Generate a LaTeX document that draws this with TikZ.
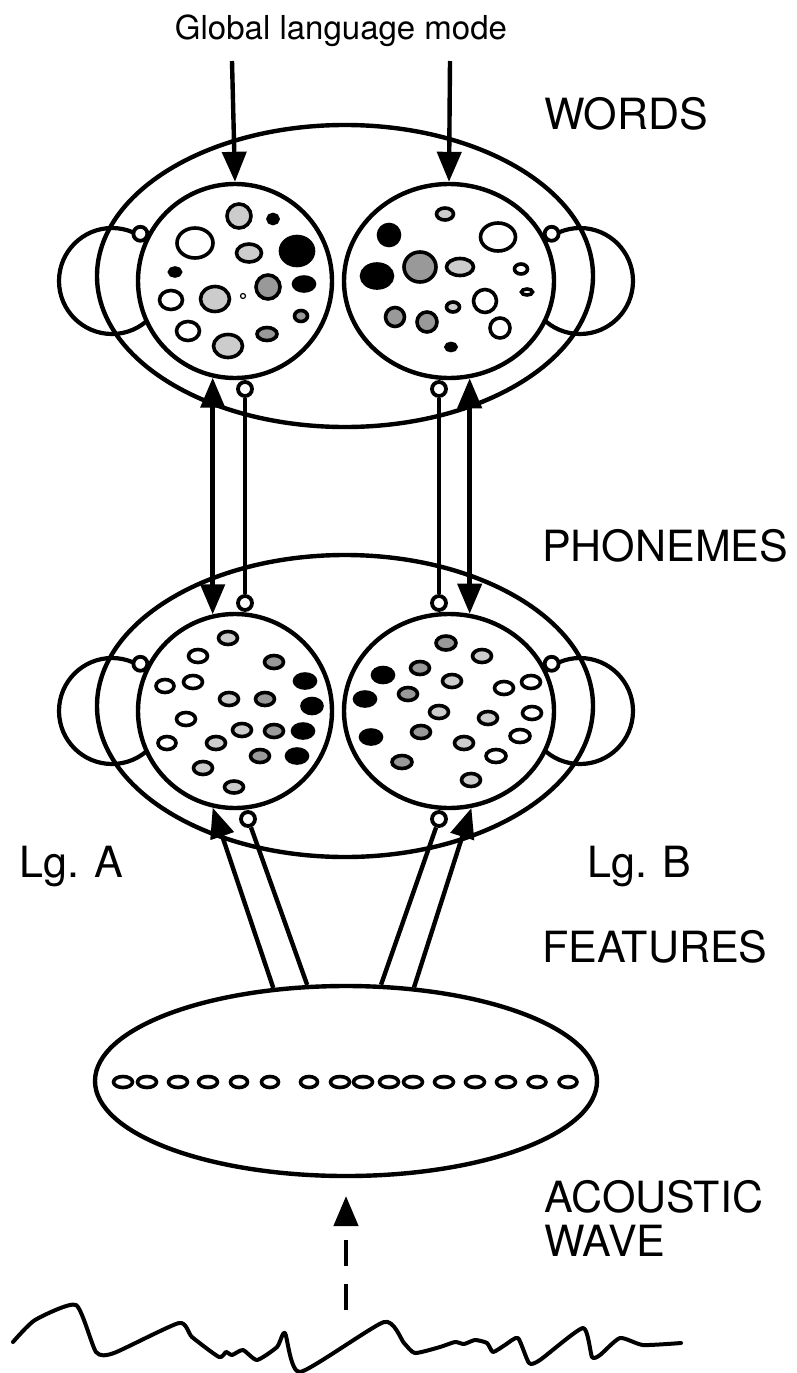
\documentclass[tikz,border=0pt]{standalone}
\usepackage{fontspec}
\setmainfont{TeX Gyre Heros}
\usetikzlibrary{arrows.meta,shapes.geometric}
\definecolor{lightblob}{gray}{0.8}
\definecolor{midblob}{gray}{0.6}
\begin{document}
\begin{tikzpicture}[x=1pt,y=1pt,yscale=-1,xscale=1,
		line/.style={line width=4.4pt},
		field/.style={draw, ellipse, line width=4.4pt, inner sep=0pt},
		cell/.style={draw, ellipse, line width=4.4pt, fill=white, inner sep=0pt},
		loopc/.style={draw, circle, line width=4.2pt, inner sep=0pt, minimum size=106pt},
		inhib/.style={draw, circle, fill=white, line width=3.8pt, inner sep=0pt, minimum size=14pt},
		ph/.style={draw, line width=3.6pt, fill=#1},
		arr/.style={line width=4.4pt, -{Triangle[length=30pt,width=24pt]}},
		biarr/.style={line width=4.4pt, {Triangle[length=30pt,width=24pt]}-{Triangle[length=30pt,width=24pt]}},
		lbl/.style={font=\fontsize{43}{44}\selectfont, anchor=base west, inner sep=0pt, align=left}]
		\useasboundingbox (0,0) rectangle (796,1373);

		% The three big fields
		\node[field, minimum width=496pt, minimum height=302pt] (words) at (345,276) {};
		\node[field, minimum width=496pt, minimum height=302pt] (phon) at (345,706) {};
		\node[field, minimum width=502pt, minimum height=190pt] (feat) at (346,1081) {};

		% Self loops of the four language circles
		\node[loopc] (lwA) at (112,281) {};
		\node[loopc] (lwB) at (580,281) {};
		\node[loopc] (lpA) at (112,711) {};
		\node[loopc] (lpB) at (580,711) {};

		% The language circles (Lg. A left, Lg. B right)
		\node[cell, minimum width=194pt, minimum height=194pt] (wA) at (235,281) {};
		\node[cell, minimum width=210pt, minimum height=194pt] (wB) at (449,281) {};
		\node[cell, minimum width=194pt, minimum height=194pt] (pA) at (235,711) {};
		\node[cell, minimum width=210pt, minimum height=194pt] (pB) at (449,711) {};

		% Word units, Lg. A
		\draw[ph=lightblob] (239,216) circle[radius=12];
		\draw[ph=black] (273,219) ellipse[x radius=5, y radius=4.5];
		\draw[ph=white] (195,243) ellipse[x radius=18, y radius=15];
		\draw[ph=lightblob] (249,253) ellipse[x radius=12.5, y radius=9];
		\draw[ph=black] (297,251) ellipse[x radius=16.5, y radius=14.5];
		\draw[ph=black] (175,272) ellipse[x radius=5.5, y radius=4];
		\draw[ph=midblob] (268,287) circle[radius=12];
		\draw[ph=black] (304,284) ellipse[x radius=10.5, y radius=7];
		\draw[ph=white] (171,300) ellipse[x radius=11.5, y radius=9.5];
		\draw[ph=lightblob] (215,299) ellipse[x radius=14.5, y radius=12.5];
		\draw[line width=1.2pt, fill=white] (243,296) circle[radius=2.5];
		\draw[ph=midblob] (301,316) ellipse[x radius=6.5, y radius=5.5];
		\draw[ph=white] (188,331) ellipse[x radius=11.5, y radius=9.5];
		\draw[ph=midblob] (267,334) ellipse[x radius=10, y radius=6.5];
		\draw[ph=lightblob] (228,346) ellipse[x radius=14.5, y radius=11.5];

		% Word units, Lg. B
		\draw[ph=lightblob] (445,214) ellipse[x radius=8.5, y radius=6];
		\draw[ph=black] (389,235) circle[radius=10.5];
		\draw[ph=white] (498,237) ellipse[x radius=17.5, y radius=14];
		\draw[ph=black] (377,276) ellipse[x radius=15.5, y radius=12];
		\draw[ph=midblob] (420,267) ellipse[x radius=16, y radius=15];
		\draw[ph=lightblob] (460,267) ellipse[x radius=13.5, y radius=8.5];
		\draw[ph=white] (521,269) ellipse[x radius=6.5, y radius=5];
		\draw[ph=white] (527,292) ellipse[x radius=5.5, y radius=3];
		\draw[ph=white] (485,301) circle[radius=11.5];
		\draw[ph=lightblob] (453,307) ellipse[x radius=6.5, y radius=5];
		\draw[ph=midblob] (395,317) circle[radius=9.5];
		\draw[ph=midblob] (427,322) circle[radius=10];
		\draw[ph=white] (500,328) circle[radius=10];
		\draw[ph=black] (451,347) ellipse[x radius=5, y radius=3.5];

		% Phoneme units, Lg. A
		\draw[ph=lightblob] (228,638) ellipse[x radius=9.5, y radius=6.5];
		\draw[ph=white] (198,656) ellipse[x radius=9.5, y radius=6.5];
		\draw[ph=midblob] (274,662) ellipse[x radius=9.5, y radius=6.5];
		\draw[ph=white] (165,686) ellipse[x radius=9, y radius=6.5];
		\draw[ph=white] (193,682) ellipse[x radius=9.5, y radius=6.5];
		\draw[ph=black] (305,681) ellipse[x radius=10.5, y radius=7];
		\draw[ph=lightblob] (229,699) ellipse[x radius=9.5, y radius=6.5];
		\draw[ph=midblob] (265,699) ellipse[x radius=9.5, y radius=6.5];
		\draw[ph=black] (312,706) ellipse[x radius=10, y radius=7.5];
		\draw[ph=white] (186,719) ellipse[x radius=9.5, y radius=6.5];
		\draw[ph=lightblob] (242,730) ellipse[x radius=9.5, y radius=6.5];
		\draw[ph=midblob] (274,731) ellipse[x radius=9.5, y radius=6.5];
		\draw[ph=black] (303,731) ellipse[x radius=10.5, y radius=7];
		\draw[ph=white] (167,743) ellipse[x radius=9, y radius=6.5];
		\draw[ph=lightblob] (216,743) ellipse[x radius=9.5, y radius=6.5];
		\draw[ph=midblob] (260,756) ellipse[x radius=9.5, y radius=6.5];
		\draw[ph=black] (297,756) ellipse[x radius=10.5, y radius=7];
		\draw[ph=lightblob] (203,768) ellipse[x radius=9.5, y radius=6.5];
		\draw[ph=lightblob] (234,787) ellipse[x radius=9.5, y radius=6];

		% Phoneme units, Lg. B
		\draw[ph=midblob] (446,643) ellipse[x radius=10, y radius=7];
		\draw[ph=lightblob] (482,656) ellipse[x radius=9.5, y radius=6.5];
		\draw[ph=black] (383,675) ellipse[x radius=10.5, y radius=7.5];
		\draw[ph=midblob] (420,668) ellipse[x radius=9.5, y radius=6.5];
		\draw[ph=lightblob] (452,681) ellipse[x radius=9.5, y radius=6.5];
		\draw[ph=white] (504,688) ellipse[x radius=9.5, y radius=6.5];
		\draw[ph=white] (531,682) ellipse[x radius=9.5, y radius=6.5];
		\draw[ph=black] (365,699) ellipse[x radius=10.5, y radius=7];
		\draw[ph=midblob] (408,694) ellipse[x radius=9.5, y radius=6.5];
		\draw[ph=lightblob] (439,712) ellipse[x radius=9.5, y radius=6.5];
		\draw[ph=lightblob] (488,718) ellipse[x radius=9.5, y radius=6.5];
		\draw[ph=white] (532,713) ellipse[x radius=9.5, y radius=6.5];
		\draw[ph=midblob] (421,732) ellipse[x radius=9.5, y radius=6.5];
		\draw[ph=black] (371,737) ellipse[x radius=10.5, y radius=7];
		\draw[ph=lightblob] (464,743) ellipse[x radius=9.5, y radius=6.5];
		\draw[ph=white] (520,736) ellipse[x radius=10, y radius=6.5];
		\draw[ph=white] (496,756) ellipse[x radius=10, y radius=6.5];
		\draw[ph=midblob] (402,762) ellipse[x radius=10, y radius=6.5];
		\draw[ph=lightblob] (471,780) ellipse[x radius=9.5, y radius=6.5];

		% Feature units
		\draw[ph=white] (123,1082) ellipse[x radius=9.5, y radius=5.5];
		\draw[ph=white] (147,1082) ellipse[x radius=9.5, y radius=5.5];
		\draw[ph=white] (178,1082) ellipse[x radius=9.5, y radius=5.5];
		\draw[ph=white] (208,1082) ellipse[x radius=9.5, y radius=5.5];
		\draw[ph=white] (239,1082) ellipse[x radius=8.5, y radius=5.5];
		\draw[ph=white] (270,1082) ellipse[x radius=8.5, y radius=5.5];
		\draw[ph=white] (309,1082) ellipse[x radius=8.5, y radius=5.5];
		\draw[ph=white] (340,1082) ellipse[x radius=9.5, y radius=5.5];
		\draw[ph=white] (363,1082) ellipse[x radius=9.5, y radius=5.5];
		\draw[ph=white] (389,1082) ellipse[x radius=9.5, y radius=5.5];
		\draw[ph=white] (413,1082) ellipse[x radius=9.5, y radius=5.5];
		\draw[ph=white] (444,1082) ellipse[x radius=9.5, y radius=5.5];
		\draw[ph=white] (475,1082) ellipse[x radius=9.5, y radius=5.5];
		\draw[ph=white] (506,1082) ellipse[x radius=9.5, y radius=5.5];
		\draw[ph=white] (537,1082) ellipse[x radius=9, y radius=5.5];
		\draw[ph=white] (568,1082) ellipse[x radius=9, y radius=5.5];

		% Inhibitory ends of the self loops
		\node[inhib] (iwA) at (lwA.59) {};
		\node[inhib] (iwB) at (lwB.121) {};
		\node[inhib] (ipA) at (lpA.59) {};
		\node[inhib] (ipB) at (lpB.121) {};

		% Global language mode input
		\node[font=\fontsize{33}{36}\selectfont, anchor=base, inner sep=0pt] (glm) at (341,39) {Global language mode};
		\coordinate (gA) at (232,61);
		\coordinate (gB) at (450,61);
		\draw[arr] (gA) -- (wA.north);
		\draw[arr] (gB) -- (wB.north);

		% Words <-> phonemes
		\node[inhib] (mwA) at (245,389) {};
		\node[inhib] (mpA) at (245,603) {};
		\node[inhib] (mwB) at (439,389) {};
		\node[inhib] (mpB) at (439,603) {};
		\draw[biarr] (wA.257) -- (pA.103);
		\draw[line] (mwA) -- (mpA);
		\draw[biarr] (wB.282) -- (pB.78);
		\draw[line] (mwB) -- (mpB);

		% Features -> phonemes
		\node[inhib] (mfA) at (248,819) {};
		\node[inhib] (mfB) at (439,819) {};
		\draw[arr] (feat.128) -- (pA.257);
		\draw[line] (feat.112) -- (mfA);
		\draw[line] (feat.70) -- (mfB);
		\draw[arr] (feat.54) -- (pB.283);

		% Acoustic wave -> features
		\coordinate (wv) at (346,1310);
		\coordinate (ftip) at (346,1196);
		\draw[line, dash pattern=on 26pt off 18pt, -{Triangle[length=30pt,width=24pt]}] (wv) -- (ftip);
		\draw[line width=4pt, line join=round, line cap=round] plot[smooth, tension=0.35] coordinates {
			(13,1342) (35,1320) (76,1305) (96,1352) (114,1353) (179,1323) (192,1337) (219,1357)
			(226,1352) (232,1355) (243,1350) (257,1360) (277,1347) (285,1333) (300,1372) (384,1322)
			(404,1343) (415,1353) (440,1347) (455,1342) (464,1344) (475,1340) (487,1343) (493,1352)
			(505,1345) (518,1338) (529,1363) (540,1360) (583,1328) (592,1357) (600,1355) (620,1338)
			(643,1345) (681,1343)};

		% Labels
		\node[lbl] (lwords) at (544,129) {WORDS};
		\node[lbl] (lphon) at (542,561) {PHONEMES};
		\node[lbl] (llgA) at (19,877) {Lg. A};
		\node[lbl] (llgB) at (587,877) {Lg. B};
		\node[lbl] (lfeat) at (542,962) {FEATURES};
		\node[lbl] (lwave) at (544,1256) {ACOUSTIC\\WAVE};
	\end{tikzpicture}
\end{document}
